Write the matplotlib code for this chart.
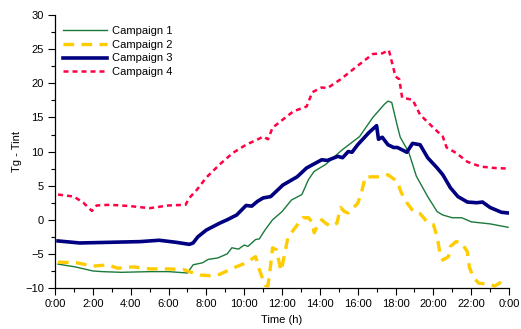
import matplotlib
matplotlib.use("Agg")
import matplotlib.pyplot as plt
from matplotlib.ticker import MultipleLocator

plt.rcParams['font.family'] = ['Liberation Sans', 'DejaVu Sans']

# Campaign 1 (green)
h1 = [0.16, 1.06, 2.0, 2.5, 3.5, 5.0, 6.0, 7.0, 7.3, 7.8, 8.1, 8.6, 9.1, 9.35, 9.7, 10.0, 10.2,
      10.6, 10.8, 11.1, 11.5, 12.0, 12.5, 13.05, 13.4, 13.7, 14.3, 15.2, 16.1, 16.8, 17.4, 17.6,
      17.8, 18.1, 18.25, 18.7, 19.1, 19.7, 20.2, 20.5, 21.0, 21.5, 22.0, 23.0, 23.95]
v1 = [-6.5, -6.9, -7.5, -7.6, -7.7, -7.6, -7.6, -7.8, -6.6, -6.3, -5.8, -5.6, -5.0, -4.1, -4.3, -3.7, -3.9,
      -2.9, -2.8, -1.5, 0.0, 1.2, 2.9, 3.7, 5.9, 7.1, 8.1, 10.3, 12.2, 15.0, 16.9, 17.4,
      17.2, 13.7, 12.1, 9.9, 6.4, 3.4, 1.2, 0.7, 0.3, 0.3, -0.3, -0.6, -1.1]

# Campaign 2 (yellow)
h2 = [0.16, 1.15, 2.0, 2.8, 3.3, 4.1, 5.0, 6.0, 6.8, 7.1, 7.7, 8.2, 8.7, 9.4, 10.1, 10.6, 10.8, 11.1,
      11.25, 11.35, 11.5, 11.7, 11.95, 12.15, 12.3, 12.6, 13.1, 13.4, 13.6, 13.7, 13.9, 14.1, 14.3,
      14.6, 14.9, 15.1, 15.3, 15.5, 16.0, 16.2, 16.4, 16.8, 17.2, 17.6, 18.1, 18.3, 18.6, 19.0, 19.3,
      19.7, 20.0, 20.2, 20.35, 20.5, 20.8, 20.9, 21.2, 21.5, 21.8, 21.9, 22.1, 22.4, 22.8, 23.25,
      23.6, 23.95]
v2 = [-6.2, -6.3, -6.8, -6.6, -7.1, -6.9, -7.2, -7.2, -7.3, -7.6, -8.1, -8.2, -8.0, -7.1, -6.3, -5.4, -7.3, -9.6,
      -9.7, -7.8, -4.1, -4.4, -7.5, -4.9, -2.7, -1.5, 0.3, 0.3, -0.4, -1.9, -0.7, 0.0, -0.5,
      -1.0, -0.5, 1.8, 1.2, 1.0, 2.4, 4.0, 6.3, 6.3, 6.3, 6.6, 5.6, 4.0, 2.5, 1.0, 0.9,
      -0.4, -0.7, -2.5, -4.9, -5.9, -5.4, -3.9, -3.2, -3.4, -4.7, -6.9, -8.4, -9.3, -9.4, -9.7,
      -9.1, -8.8]

# Campaign 3 (navy)
h3 = [0.16, 1.3, 2.9, 4.5, 5.5, 6.4, 7.1, 7.3, 7.55, 8.0, 8.7, 9.1, 9.6, 10.1, 10.4, 10.7, 11.0, 11.4,
      12.05, 12.8, 13.3, 14.1, 14.4, 14.95, 15.2, 15.5, 15.7, 16.0, 16.6, 17.0, 17.1, 17.3, 17.6,
      17.9, 18.1, 18.6, 18.9, 19.3, 19.7, 20.2, 20.5, 20.9, 21.3, 21.8, 22.3, 22.6, 23.0, 23.6, 23.95]
v3 = [-3.1, -3.4, -3.3, -3.2, -3.0, -3.3, -3.6, -3.4, -2.5, -1.5, -0.5, 0.0, 0.7, 2.1, 2.0, 2.7, 3.2, 3.4,
      5.1, 6.3, 7.6, 8.8, 8.7, 9.3, 9.1, 10.0, 9.9, 11.0, 12.8, 13.8, 11.8, 12.1, 11.0,
      10.6, 10.6, 9.9, 11.2, 11.0, 9.1, 7.6, 6.6, 4.7, 3.4, 2.6, 2.5, 2.6, 1.8, 1.1, 1.0]

# Campaign 4 (red)
h4 = [0.16, 1.0, 1.5, 1.95, 2.2, 2.9, 4.0, 5.0, 6.0, 6.9, 7.1, 7.5, 8.0, 8.7, 9.4, 10.1, 10.8, 11.0,
      11.26, 11.5, 12.6, 13.3, 13.6, 14.1, 14.4, 15.1, 16.1, 16.8, 17.3, 17.65, 18.0, 18.2, 18.35,
      18.9, 19.3, 20.0, 20.5, 20.7, 21.2, 21.8, 22.5, 23.2, 24.0]
v4 = [3.7, 3.4, 2.5, 1.3, 2.1, 2.2, 2.0, 1.7, 2.1, 2.2, 3.2, 4.4, 6.2, 8.1, 9.8, 11.0, 11.9, 12.2,
      11.8, 13.5, 15.9, 16.6, 18.7, 19.4, 19.3, 20.6, 22.8, 24.3, 24.4, 24.85, 21.0, 20.6, 17.9,
      17.6, 15.4, 13.5, 12.2, 10.6, 9.8, 8.5, 7.8, 7.6, 7.5]

labels = ["Campaign 1", "Campaign 2", "Campaign 3", "Campaign 4"]
xtick_vals = list(range(0, 25, 2))
xtick_labels = ["0:00", "2:00", "4:00", "6:00", "8:00", "10:00", "12:00",
                "14:00", "16:00", "18:00", "20:00", "22:00", "0:00"]

fig = plt.figure(figsize=(5.21, 3.29), dpi=100)
ax = fig.add_axes([0.1056, 0.1246, 0.8714, 0.8294])

ax.plot(h1, v1, color='#1a7a3c', lw=1.0, label=labels[0])
ax.plot(h2, v2, color='#ffcc00', lw=2.4, ls=(0, (3.2, 2.2)), label=labels[1])
ax.plot(h3, v3, color='#000080', lw=2.6, label=labels[2])
ax.plot(h4, v4, color='#ff0044', lw=1.8, ls=(0, (2.0, 1.6)), label=labels[3])

ax.set_xlim(0, 24)
ax.set_ylim(-10, 30)
ax.set_xticks(xtick_vals)
ax.set_xticklabels(xtick_labels)
ax.xaxis.set_minor_locator(MultipleLocator(1))
ax.yaxis.set_major_locator(MultipleLocator(5))
ax.yaxis.set_minor_locator(MultipleLocator(2.5))
ax.tick_params(which='major', direction='out', length=5, width=0.8, labelsize=8, pad=3)
ax.tick_params(which='minor', direction='out', length=3, width=0.8)
for s in ['top', 'right']:
    ax.spines[s].set_visible(False)
for s in ['left', 'bottom']:
    ax.spines[s].set_linewidth(0.9)

ax.set_xlabel("Time (h)", fontsize=8, labelpad=4)
ax.set_ylabel("Tg - Tint", fontsize=8, labelpad=2)

ax.legend(loc='upper left', bbox_to_anchor=(0.0, 0.99), frameon=False, fontsize=8,
          handlelength=4.0, handletextpad=0.4, labelspacing=0.35, borderaxespad=0.3)

fig.savefig("out.png", dpi=100)
